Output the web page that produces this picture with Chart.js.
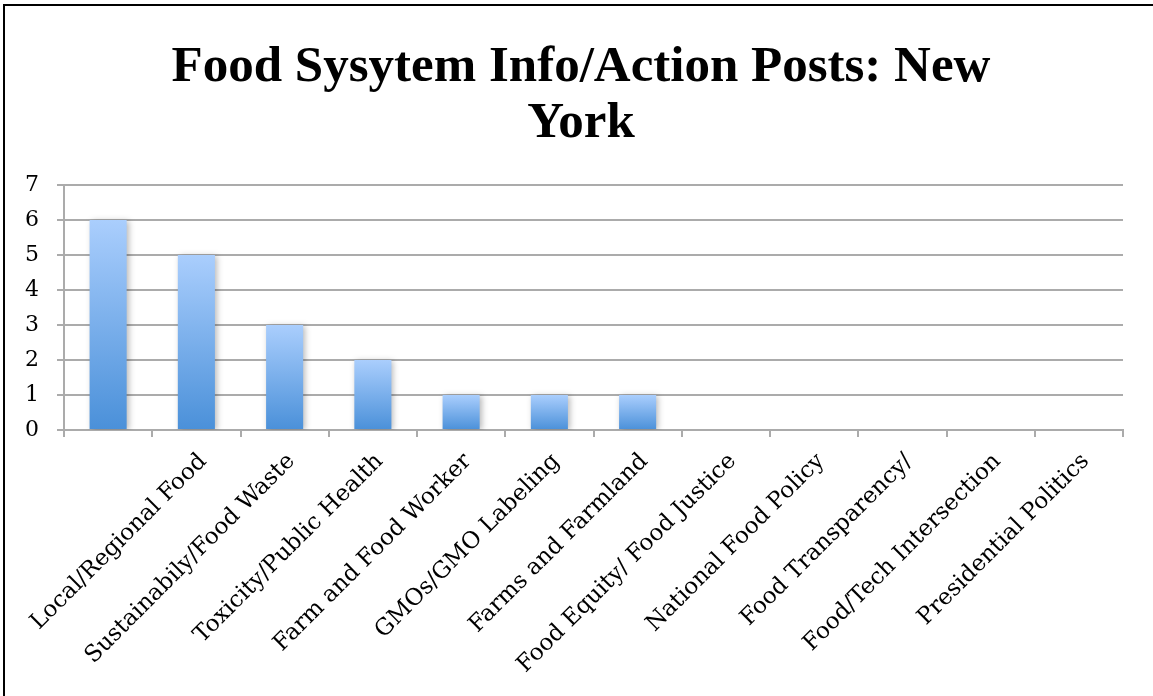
<!DOCTYPE html>
<html>
<head>
<meta charset="utf-8">
<title>Food System Info/Action Posts: New York</title>
<script src="https://cdn.jsdelivr.net/npm/chart.js@4.4.1/dist/chart.umd.min.js"></script>
<style>
  html, body { margin: 0; padding: 0; background: #fff; overflow: hidden; }
  #wrap { position: relative; width: 1153px; height: 696px; }
  #frame {
    position: absolute; left: 3px; top: 4px; width: 1300px; height: 900px;
    border-left: 2px solid #000; border-top: 2px solid #000; pointer-events: none;
  }
  canvas { position: absolute; left: 0; top: 0; }
</style>
</head>
<body>
<div id="wrap">
  <canvas id="postsChart" width="1153" height="696"></canvas>
  <div id="frame"></div>
</div>
<script>
const chartTitle = ['Food Sysytem Info/Action Posts: New', 'York'];

const categories = [
  'Local/Regional Food',
  'Sustainabily/Food Waste',
  'Toxicity/Public Health',
  'Farm and Food Worker',
  'GMOs/GMO Labeling',
  'Farms and Farmland',
  'Food Equity/ Food Justice',
  'National Food Policy',
  'Food Transparency/',
  'Food/Tech Intersection',
  'Presidential Politics'
];
// the axis has one more slot than there are named topics
const slots = categories.concat(['']);

const postCounts = [6, 5, 3, 2, 1, 1, 1, 0, 0, 0, 0, 0];
const yTicks = [0, 1, 2, 3, 4, 5, 6, 7];

const gridColor = '#ababab';

// blue fade, light at the top of each bar and darker at its base
const barFill = (ctx) => {
  const chart = ctx.chart;
  const y = chart.scales.y;
  if (!chart.chartArea || !y) return '#7aaeea';
  const top = y.getPixelForValue(ctx.raw);
  const bottom = y.getPixelForValue(0);
  if (bottom - top < 1) return '#7aaeea';
  const g = chart.ctx.createLinearGradient(0, top, 0, bottom);
  g.addColorStop(0, '#aacefd');
  g.addColorStop(1, '#4a90d9');
  return g;
};

// soft drop shadow behind the bars
const barShadow = {
  id: 'barShadow',
  beforeDatasetsDraw(chart) {
    const c = chart.ctx;
    c.save();
    c.shadowColor = 'rgba(0,0,0,0.28)';
    c.shadowBlur = 6;
    c.shadowOffsetX = 2;
    c.shadowOffsetY = 1;
  },
  afterDatasetsDraw(chart) {
    chart.ctx.restore();
  }
};

new Chart(document.getElementById('postsChart'), {
  type: 'bar',
  data: {
    labels: slots,
    datasets: [{
      data: postCounts,
      backgroundColor: barFill,
      borderWidth: 0,
      categoryPercentage: 1,
      barPercentage: 0.42
    }]
  },
  plugins: [barShadow],
  options: {
    responsive: false,
    animation: false,
    devicePixelRatio: 1,
    layout: { padding: { top: 0, left: 9, right: 0, bottom: 0 } },
    plugins: {
      legend: { display: false },
      tooltip: { enabled: false },
      title: {
        display: true,
        text: chartTitle,
        color: '#000',
        font: { family: 'Liberation Serif', size: 51, weight: 'bold', lineHeight: 1.1 },
        padding: { top: 40, bottom: 32.8 }
      }
    },
    scales: {
      x: {
        offset: true,
        grid: {
          offset: true,
          drawOnChartArea: false,
          drawTicks: true,
          tickLength: 7,
          color: gridColor,
          lineWidth: 2
        },
        border: { display: true, color: gridColor, width: 2 },
        ticks: {
          autoSkip: false,
          minRotation: 45,
          maxRotation: 45,
          labelOffset: 95,
          padding: 11,
          color: '#000',
          font: { family: 'DejaVu Serif', size: 23 }
        },
        afterFit: (s) => {
          // fixed band below the plot; keep 30px clear on the right
          s.height = 266;
          s.paddingLeft = 0;
          s.paddingRight = 30;
        }
      },
      y: {
        min: 0,
        max: 7,
        afterBuildTicks: (s) => { s.ticks = yTicks.map(v => ({ value: v })); },
        grid: {
          color: gridColor,
          lineWidth: 2,
          drawTicks: true,
          tickLength: 7
        },
        border: { display: true, color: gridColor, width: 2 },
        ticks: {
          padding: 18,
          color: '#000',
          font: { family: 'DejaVu Serif', size: 22 }
        },
        afterFit: (s) => { s.width = 55; }
      }
    }
  }
});
</script>
</body>
</html>
